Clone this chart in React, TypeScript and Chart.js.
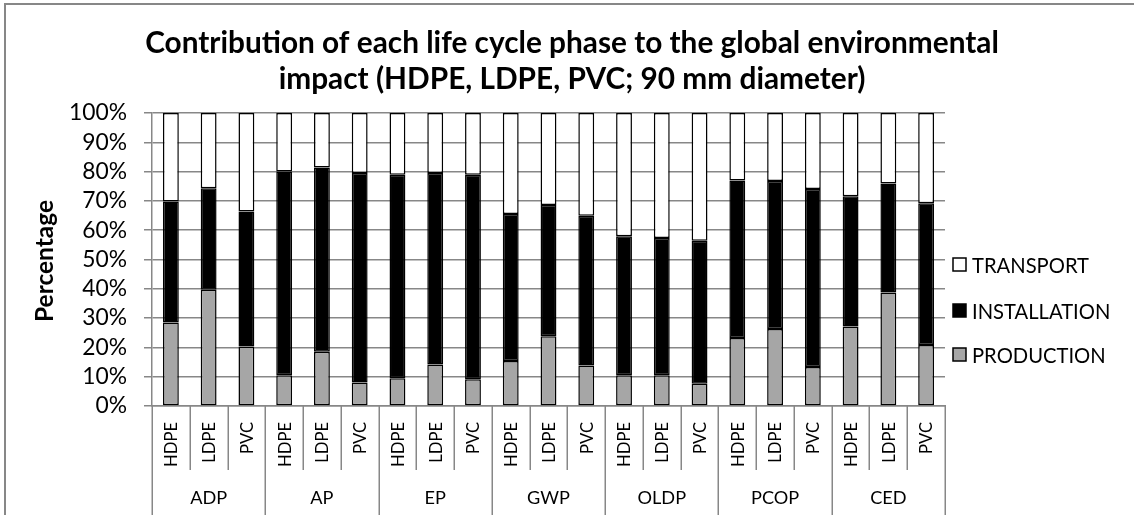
import React, { useEffect, useRef } from 'react';
import { Chart, registerables } from 'chart.js';

Chart.register(...registerables);

// ---- data ----
const GROUPS = ['ADP', 'AP', 'EP', 'GWP', 'OLDP', 'PCOP', 'CED'];
const MATERIALS = ['HDPE', 'LDPE', 'PVC'];
const PRODUCTION = [28.5, 39.7, 20.3, 10.5, 18.5, 8.0, 9.5, 14.2, 9.1, 15.4, 23.8, 13.8, 10.5, 10.5, 7.6, 23.2, 26.3, 13.3, 27.1, 38.7, 20.8];
const INSTALLATION = [41.3, 34.6, 46.1, 69.5, 62.9, 71.5, 69.4, 65.3, 69.8, 50.1, 44.8, 51.1, 47.4, 46.8, 48.8, 53.8, 50.5, 60.8, 44.5, 37.2, 48.4];
const TRANSPORT = [30.2, 25.7, 33.6, 20.0, 18.6, 20.5, 21.1, 20.5, 21.1, 34.5, 31.4, 35.1, 42.1, 42.7, 43.6, 23.0, 23.2, 25.9, 28.4, 24.1, 30.8];
const SERIES_NAMES = ['PRODUCTION', 'INSTALLATION', 'TRANSPORT'];
const TITLE_LINES = [
  'Contribution of each life cycle phase to the global environmental',
  'impact (HDPE, LDPE, PVC; 90 mm diameter)',
];
const Y_TITLE = 'Percentage';
const Y_MAX = 100;
const Y_STEP = 10;

// ---- style ----
const FONT = 'Lato, "Open Sans", sans-serif';
const GRID = '#878787';
const SERIES_COLORS = ['#a6a6a6', '#000000', '#ffffff'];
const W = 1134;
const H = 515;
const PLOT = { left: 152, right: 945, top: 113, bottom: 406 };

function fitSize(text: string, weight: string, target: number): number {
  const c = document.createElement('canvas').getContext('2d') as CanvasRenderingContext2D;
  c.font = `${weight} 100px ${FONT}`;
  const w = c.measureText(text).width;
  return w > 0 ? (100 * target) / w : 20;
}

export default function App() {
  const ref = useRef<HTMLCanvasElement | null>(null);

  useEffect(() => {
    if (!ref.current) return;
    const fTitle = fitSize(TITLE_LINES[0], 'bold', 854);
    const fTick = fitSize('100%', 'normal', 58);
    const fYTitle = fitSize(Y_TITLE, 'bold', 122);
    const fLegend = fitSize('TRANSPORT', 'normal', 117);
    const fCat = fitSize('HDPE', 'normal', 45);
    const fGroup = fitSize('ADP', 'normal', 37);

    const labels: string[] = [];
    GROUPS.forEach(() => MATERIALS.forEach((m) => labels.push(m)));

    const decor = {
      id: 'decor',
      beforeDraw(chart: any) {
        const ctx = chart.ctx;
        ctx.save();
        ctx.strokeStyle = GRID;
        ctx.lineWidth = 2;
        ctx.strokeRect(5, 4, W + 50, H + 50);
        ctx.restore();
      },
      afterDraw(chart: any) {
        const ctx = chart.ctx as CanvasRenderingContext2D;
        const xs = chart.scales.x;
        const area = chart.chartArea;
        const n = labels.length;
        const step = (area.right - area.left) / n;
        ctx.save();
        // title
        ctx.fillStyle = '#000';
        ctx.font = `bold ${fTitle}px ${FONT}`;
        ctx.textAlign = 'center';
        ctx.textBaseline = 'alphabetic';
        ctx.fillText(TITLE_LINES[0], 572, 53);
        ctx.fillText(TITLE_LINES[1], 572, 89);
        // y title
        ctx.save();
        ctx.translate(45, 261);
        ctx.rotate(-Math.PI / 2);
        ctx.font = `bold ${fYTitle}px ${FONT}`;
        ctx.textAlign = 'center';
        ctx.textBaseline = 'middle';
        ctx.fillText(Y_TITLE, 0, 0);
        ctx.restore();
        // x-axis category separators and labels
        ctx.strokeStyle = GRID;
        ctx.lineWidth = 1.5;
        for (let i = 0; i <= n; i++) {
          const x = Math.round(area.left + step * i) + 0.25;
          const isGroup = i % MATERIALS.length === 0;
          ctx.beginPath();
          ctx.moveTo(x, area.bottom);
          ctx.lineTo(x, isGroup ? H : 470);
          ctx.stroke();
        }
        ctx.font = `${fCat}px ${FONT}`;
        for (let i = 0; i < n; i++) {
          const cx = xs.getPixelForValue(i);
          ctx.save();
          ctx.translate(cx + 1, 422);
          ctx.rotate(-Math.PI / 2);
          ctx.textAlign = 'right';
          ctx.textBaseline = 'middle';
          ctx.fillText(labels[i], 0, 0);
          ctx.restore();
        }
        ctx.font = `${fGroup}px ${FONT}`;
        ctx.textAlign = 'center';
        ctx.textBaseline = 'middle';
        GROUPS.forEach((g, gi) => {
          const cx = area.left + step * (gi * MATERIALS.length + MATERIALS.length / 2);
          ctx.fillText(g, cx, 498);
        });
        // legend (reverse order: top = last series)
        ctx.font = `${fLegend}px ${FONT}`;
        ctx.textAlign = 'left';
        ctx.textBaseline = 'middle';
        const legendY = [355, 311, 265];
        SERIES_NAMES.forEach((name, si) => {
          const y = legendY[si];
          ctx.fillStyle = SERIES_COLORS[si];
          ctx.fillRect(953, y - 7, 13, 13);
          ctx.strokeStyle = '#000';
          ctx.lineWidth = 1.5;
          ctx.strokeRect(953, y - 7, 13, 13);
          ctx.fillStyle = '#000';
          ctx.fillText(name, 972, y + 1);
        });
        ctx.restore();
      },
    };

    const series = [PRODUCTION, INSTALLATION, TRANSPORT];
    const chart = new Chart(ref.current, {
      type: 'bar',
      data: {
        labels,
        datasets: series.map((d, si) => ({
          label: SERIES_NAMES[si],
          data: d,
          backgroundColor: SERIES_COLORS[si],
          borderColor: '#000',
          borderWidth: 1.5,
          borderSkipped: false,
          barPercentage: 0.42,
          categoryPercentage: 1,
        })),
      },
      options: {
        animation: false,
        responsive: false,
        devicePixelRatio: 1,
        events: [],
        layout: { padding: { left: 0, right: W - PLOT.right, top: PLOT.top, bottom: 0 } },
        plugins: { legend: { display: false }, title: { display: false }, tooltip: { enabled: false } },
        scales: {
          x: {
            stacked: true,
            offset: true,
            grid: { display: false },
            border: { display: true, color: GRID, width: 1.5 },
            ticks: { display: false },
            afterFit: (s: any) => { s.height = H - PLOT.bottom; },
          },
          y: {
            stacked: true,
            min: 0,
            max: Y_MAX,
            ticks: {
              stepSize: Y_STEP,
              autoSkip: false,
              callback: (v: any) => `${v}%`,
              color: '#000',
              font: { family: FONT, size: fTick },
              padding: 17,
            },
            grid: { color: GRID, lineWidth: 1.5, tickLength: 8, drawTicks: true },
            border: { display: true, color: GRID, width: 1.5 },
            afterFit: (s: any) => { s.width = PLOT.left; },
          },
        },
      },
      plugins: [decor],
    } as any);
    return () => chart.destroy();
  }, []);

  return (
    <div style={{ position: 'absolute', left: 0, top: 0, width: W, height: H, background: '#fff' }}>
      <canvas ref={ref} width={W} height={H} style={{ display: 'block' }} />
    </div>
  );
}
